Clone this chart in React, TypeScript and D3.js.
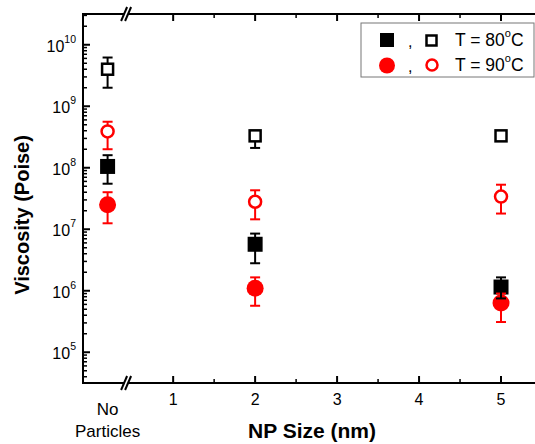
import React from "react";
import * as d3 from "d3";

// x positions of the three groups ("No Particles" sits left of the axis break)
const groupX = [0.2, 2, 5];
const xTicks = [1, 2, 3, 4, 5];
const xMinorTicks = [1.5, 2.5, 3.5, 4.5];
const yMajorExp = [5, 6, 7, 8, 9, 10];

// T = 80 C
const t80Filled = [1.05e8, 5.7e6, 1.15e6];
const t80FilledLo = [5.5e7, 2.8e6, 7.5e5];
const t80FilledHi = [1.6e8, 8.5e6, 1.65e6];
const t80Open = [4.0e9, 3.3e8, 3.3e8];
const t80OpenLo = [2.0e9, 2.1e8, 2.8e8];
const t80OpenHi = [6.2e9, 4.0e8, 3.8e8];

// T = 90 C
const t90Filled = [2.5e7, 1.1e6, 6.3e5];
const t90FilledLo = [1.25e7, 5.7e5, 3.1e5];
const t90FilledHi = [4.0e7, 1.65e6, 9.0e5];
const t90Open = [3.9e8, 2.8e7, 3.4e7];
const t90OpenLo = [2.0e8, 1.45e7, 1.8e7];
const t90OpenHi = [5.6e8, 4.3e7, 5.3e7];

const FONT = "Arial, 'Liberation Sans', sans-serif";

export default function App() {
  const left = 83, right = 542, top = 14, bottom = 383;
  const x = d3.scaleLinear().domain([-0.1, 5.5]).range([left, right]);
  const y = d3.scaleLog().domain([10 ** 4.5, 10 ** 10.5]).range([bottom, top]);

  const minor: number[] = [];
  for (let e = 4; e <= 10; e++) {
    for (let k = 2; k <= 9; k++) {
      const v = k * 10 ** e;
      if (v > 10 ** 4.5 && v < 10 ** 10.5) minor.push(v);
    }
  }

  const errBar = (xi: number, lo: number, hi: number, color: string, key: string) => {
    const cx = x(xi);
    return (
      <g key={key} stroke={color} strokeWidth={2}>
        <line x1={cx} x2={cx} y1={y(lo)} y2={y(hi)} />
        <line x1={cx - 5} x2={cx + 5} y1={y(lo)} y2={y(lo)} />
        <line x1={cx - 5} x2={cx + 5} y1={y(hi)} y2={y(hi)} />
      </g>
    );
  };

  const breakX = x(0.45);
  const breakMark = (yy: number) => (
    <g>
      <polygon
        points={`${breakX - 7},${yy + 7} ${breakX - 1},${yy - 7} ${breakX + 3},${yy - 7} ${breakX - 3},${yy + 7}`}
        fill="white"
      />
      <line x1={breakX - 7} y1={yy + 7} x2={breakX - 1} y2={yy - 7} stroke="black" strokeWidth={2} />
      <line x1={breakX - 3} y1={yy + 7} x2={breakX + 3} y2={yy - 7} stroke="black" strokeWidth={2} />
    </g>
  );

  return (
    <svg width={535} height={444} style={{ position: "absolute", left: 0, top: 0, background: "white" }} fontFamily={FONT}>
      {/* frame */}
      <rect x={left} y={top} width={right - left} height={bottom - top} fill="none" stroke="black" strokeWidth={2} />

      {/* y ticks, left and right */}
      {yMajorExp.map((e) => (
        <g key={"ym" + e}>
          <line x1={left} x2={left + 7} y1={y(10 ** e)} y2={y(10 ** e)} stroke="black" strokeWidth={2} />
          <line x1={right} x2={right - 7} y1={y(10 ** e)} y2={y(10 ** e)} stroke="black" strokeWidth={2} />
          <text x={76} y={y(10 ** e) + 7} textAnchor="end" fontSize={16} fill="black">
            10
            <tspan fontSize={10.5} dy={-9}>{e}</tspan>
          </text>
        </g>
      ))}
      {minor.map((v) => (
        <g key={"yn" + v}>
          <line x1={left} x2={left + 4} y1={y(v)} y2={y(v)} stroke="black" strokeWidth={1.5} />
          <line x1={right} x2={right - 4} y1={y(v)} y2={y(v)} stroke="black" strokeWidth={1.5} />
        </g>
      ))}

      {/* x ticks, bottom and top */}
      {xTicks.map((t) => (
        <g key={"xt" + t}>
          <line x1={x(t)} x2={x(t)} y1={bottom} y2={bottom - 7} stroke="black" strokeWidth={2} />
          <line x1={x(t)} x2={x(t)} y1={top} y2={top + 7} stroke="black" strokeWidth={2} />
          <text x={x(t)} y={405} textAnchor="middle" fontSize={16} fill="black">{t}</text>
        </g>
      ))}
      {xMinorTicks.map((t) => (
        <g key={"xn" + t}>
          <line x1={x(t)} x2={x(t)} y1={bottom} y2={bottom - 4} stroke="black" strokeWidth={1.5} />
          <line x1={x(t)} x2={x(t)} y1={top} y2={top + 4} stroke="black" strokeWidth={1.5} />
        </g>
      ))}
      <text x={x(groupX[0])} y={415} textAnchor="middle" fontSize={17} fill="black">No</text>
      <text x={x(groupX[0])} y={437} textAnchor="middle" fontSize={17} fill="black">Particles</text>

      {breakMark(top)}
      {breakMark(bottom)}

      {/* axis titles */}
      <text x={312} y={438} textAnchor="middle" fontSize={21} fontWeight="bold" fill="black">NP Size (nm)</text>
      <text transform="translate(29,215) rotate(-90)" textAnchor="middle" fontSize={20} fontWeight="bold" fill="black">
        Viscosity (Poise)
      </text>

      {/* open markers */}
      {groupX.map((g, i) => (
        <g key={"o80" + i}>
          {errBar(g, t80OpenLo[i], t80OpenHi[i], "black", "e")}
          <rect x={x(g) - 5.5} y={y(t80Open[i]) - 5.5} width={11} height={11} fill="white" stroke="black" strokeWidth={2.5} />
        </g>
      ))}
      {groupX.map((g, i) => (
        <g key={"o90" + i}>
          {errBar(g, t90OpenLo[i], t90OpenHi[i], "red", "e")}
          <circle cx={x(g)} cy={y(t90Open[i])} r={6} fill="white" stroke="red" strokeWidth={2.5} />
        </g>
      ))}

      {/* filled markers */}
      {groupX.map((g, i) => (
        <rect key={"f80" + i} x={x(g) - 7.5} y={y(t80Filled[i]) - 7.5} width={15} height={15} fill="black" />
      ))}
      {groupX.map((g, i) => (
        <circle key={"f90" + i} cx={x(g)} cy={y(t90Filled[i])} r={8.5} fill="red" />
      ))}
      {groupX.map((g, i) => errBar(g, t90FilledLo[i], t90FilledHi[i], "red", "ef90" + i))}
      {groupX.map((g, i) => errBar(g, t80FilledLo[i], t80FilledHi[i], "black", "ef80" + i))}

      {/* legend */}
      <rect x={361} y={23} width={173} height={54} fill="white" stroke="#777" strokeWidth={1} />
      <rect x={380} y={33} width={14} height={14} fill="black" />
      <text x={408} y={47} fontSize={16} fill="black">,</text>
      <rect x={426.5} y={35.5} width={10} height={10} fill="white" stroke="black" strokeWidth={2.5} />
      <text x={455} y={46} fontSize={17.5} fill="black">
        T = 80<tspan fontSize={11} dy={-9}>o</tspan><tspan dy={9}>C</tspan>
      </text>
      <circle cx={387} cy={65.5} r={8} fill="red" />
      <text x={408} y={72} fontSize={16} fill="black">,</text>
      <circle cx={432} cy={65} r={5.5} fill="white" stroke="red" strokeWidth={2.5} />
      <text x={455} y={71} fontSize={17.5} fill="black">
        T = 90<tspan fontSize={11} dy={-9}>o</tspan><tspan dy={9}>C</tspan>
      </text>
    </svg>
  );
}
